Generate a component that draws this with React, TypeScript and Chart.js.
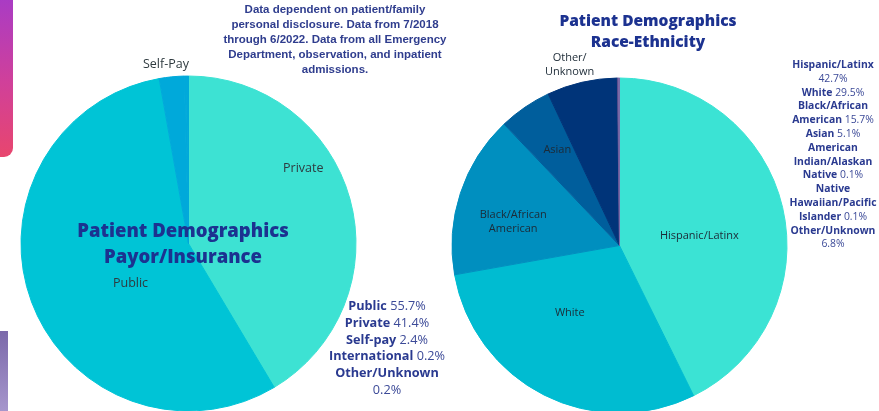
import React, { useEffect, useRef } from "react";
import { Chart, registerables } from "chart.js";

Chart.register(...registerables);

// ---- Payor / Insurance ----
const payorCategories = ["Private", "Public", "Self-pay", "International", "Other/Unknown"];
const payorValues = [41.4, 55.7, 2.4, 0.2, 0.2];
const payorColors = ["#3DE2D3", "#00C4D6", "#00A9DA", "#00A9DA", "#00A9DA"];
const payorSliceText = ["Private", "Public", "Self-Pay", "", ""];
// legend order / wrap hints
const payorLegendOrder = [1, 0, 2, 3, 4];
const payorLegendNames = ["Private", "Public", "Self-pay", "International", "Other/Unknown\n"];

// ---- Race / Ethnicity ----
const raceCategories = [
  "Hispanic/Latinx",
  "White",
  "Black/African American",
  "Asian",
  "Other/Unknown",
  "American Indian/Alaskan Native",
  "Native Hawaiian/Pacific Islander",
];
const raceValues = [42.7, 29.5, 15.7, 5.1, 6.8, 0.1, 0.1];
const raceColors = ["#3BE3D4", "#00BCD1", "#008FBF", "#005E9C", "#003479", "#5B4E8E", "#7A6AA8"];
const raceSliceText = ["Hispanic/Latinx", "White", "Black/African\nAmerican", "Asian", "Other/\nUnknown", "", ""];
const raceLegendOrder = [0, 1, 2, 3, 5, 6, 4];
const raceLegendNames = [
  "Hispanic/Latinx\n",
  "White",
  "Black/African\nAmerican",
  "Asian",
  "Other/Unknown\n",
  "American\nIndian/Alaskan\nNative",
  "Native\nHawaiian/Pacific\nIslander",
];

const noteText =
  "Data dependent on patient/family\npersonal disclosure. Data from 7/2018\nthrough 6/2022. Data from all Emergency\nDepartment, observation, and inpatient\nadmissions.";

const sliceLabelPlugin = {
  id: "sliceLabels",
  afterDatasetsDraw(chart: any, _args: any, opts: any) {
    const meta = chart.getDatasetMeta(0);
    const ctx = chart.ctx;
    ctx.save();
    ctx.font = opts.font;
    ctx.fillStyle = opts.color;
    ctx.textAlign = "center";
    ctx.textBaseline = "middle";
    meta.data.forEach((arc: any, i: number) => {
      const text = opts.texts[i];
      const p = opts.place[i];
      if (!text || !p) return;
      const { x, y, startAngle, endAngle, outerRadius } = arc.getProps(
        ["x", "y", "startAngle", "endAngle", "outerRadius"],
        true
      );
      const a = startAngle + (endAngle - startAngle) * p.along;
      const r = outerRadius * p.radius;
      const cx = x + Math.cos(a) * r;
      const cy = y + Math.sin(a) * r;
      const lines = String(text).split("\n");
      const lh = opts.lineHeight;
      lines.forEach((ln: string, k: number) => {
        ctx.fillText(ln, cx, cy + (k - (lines.length - 1) / 2) * lh);
      });
    });
    ctx.restore();
  },
};

function PieCanvas(props: {
  left: number;
  width: number;
  height: number;
  padding: { left: number; top: number; right: number; bottom: number };
  labels: string[];
  values: number[];
  colors: string[];
  texts: string[];
  place: ({ along: number; radius: number } | null)[];
  font: string;
  color: string;
  lineHeight: number;
}) {
  const ref = useRef<HTMLCanvasElement | null>(null);
  useEffect(() => {
    if (!ref.current) return;
    const chart = new Chart(ref.current, {
      type: "pie",
      data: {
        labels: props.labels,
        datasets: [
          {
            data: props.values,
            backgroundColor: props.colors,
            borderColor: props.colors,
            borderWidth: 1,
          },
        ],
      },
      options: {
        responsive: false,
        animation: false,
        layout: { padding: props.padding },
        plugins: {
          legend: { display: false },
          tooltip: { enabled: false },
          // @ts-ignore
          sliceLabels: {
            texts: props.texts,
            place: props.place,
            font: props.font,
            color: props.color,
            lineHeight: props.lineHeight,
          },
        },
      },
      plugins: [sliceLabelPlugin as any],
    });
    return () => chart.destroy();
  }, []);
  return (
    <canvas
      ref={ref}
      width={props.width}
      height={props.height}
      style={{ position: "absolute", left: props.left, top: 0, width: props.width, height: props.height }}
    />
  );
}

function Legend(props: {
  order: number[];
  names: string[];
  values: number[];
  style: React.CSSProperties;
  labelColor: string;
  valueColor: string;
}) {
  return (
    <div style={{ position: "absolute", textAlign: "center", whiteSpace: "pre", ...props.style }}>
      {props.order.map((idx, k) => {
        const name = props.names[idx];
        const parts = name.split("\n");
        const last = parts.pop() as string;
        return (
          <div key={k}>
            {parts.map((p, j) => (
              <div key={j} style={{ fontWeight: 700, color: props.labelColor }}>
                {p}
              </div>
            ))}
            <div>
              {last !== "" && <span style={{ fontWeight: 700, color: props.labelColor }}>{last} </span>}
              <span style={{ fontWeight: 400, color: props.valueColor }}>{props.values[idx].toFixed(1)}%</span>
            </div>
          </div>
        );
      })}
    </div>
  );
}

export default function App() {
  useEffect(() => {
    document.body.style.margin = "0";
    document.documentElement.style.overflow = "hidden";
  }, []);
  const navy = "#1C3290";
  return (
    <div
      style={{
        position: "absolute",
        left: 0,
        top: 0,
        width: 879,
        height: 411,
        overflow: "hidden",
        background: "#ffffff",
        fontFamily: "'Open Sans', sans-serif",
      }}
    >
      {/* decorative edge shapes */}
      <div
        style={{
          position: "absolute",
          left: -10,
          top: -10,
          width: 23,
          height: 167,
          borderRadius: 9,
          background: "linear-gradient(180deg, #A53BC9 0%, #D0409A 55%, #E8466E 100%)",
        }}
      />
      <div
        style={{
          position: "absolute",
          left: 0,
          top: 331,
          width: 8,
          height: 80,
          background: "linear-gradient(180deg, #7B69AA 0%, #A696CC 100%)",
        }}
      />

      <PieCanvas
        left={0}
        width={440}
        height={430}
        padding={{ left: 20.5, top: 75.5, right: 83.5, bottom: 18.5 }}
        labels={payorCategories}
        values={payorValues}
        colors={payorColors}
        texts={payorSliceText}
        place={[
          { along: 0.38, radius: 0.82 },
          { along: 0.43, radius: 0.42 },
          { along: 0.34, radius: 1.08 },
          null,
          null,
        ]}
        font="12.5px 'Open Sans', sans-serif"
        color="#2E3A3F"
        lineHeight={14}
      />
      <PieCanvas
        left={440}
        width={439}
        height={430}
        padding={{ left: 11.5, top: 77.5, right: 91.5, bottom: 16.5 }}
        labels={raceCategories}
        values={raceValues}
        colors={raceColors}
        texts={raceSliceText}
        place={[
          { along: 0.54, radius: 0.48 },
          { along: 0.59, radius: 0.5 },
          { along: 0.4, radius: 0.65 },
          { along: 0.57, radius: 0.68 },
          { along: 0.4, radius: 1.12 },
          null,
          null,
        ]}
        font="11px 'Open Sans', sans-serif"
        color="#1C2A36"
        lineHeight={14}
      />

      {/* note */}
      <div
        style={{
          position: "absolute",
          left: 185,
          top: 2,
          width: 300,
          textAlign: "center",
          whiteSpace: "pre",
          fontFamily: "'Liberation Sans', Arial, sans-serif",
          fontWeight: 700,
          fontSize: 11.5,
          lineHeight: "15px",
          color: "#2F3D8E",
        }}
      >
        {noteText}
      </div>

      {/* left title */}
      <div
        style={{
          position: "absolute",
          left: 33,
          top: 217,
          width: 300,
          textAlign: "center",
          fontWeight: 800,
          fontSize: 18.5,
          lineHeight: "26px",
          color: navy,
        }}
      >
        Patient Demographics
        <br />
        Payor/Insurance
      </div>

      {/* right title */}
      <div
        style={{
          position: "absolute",
          left: 498,
          top: 10,
          width: 300,
          textAlign: "center",
          fontWeight: 800,
          fontSize: 15.5,
          lineHeight: "21px",
          color: navy,
        }}
      >
        Patient Demographics
        <br />
        Race-Ethnicity
      </div>

      <Legend
        order={payorLegendOrder}
        names={payorLegendNames}
        values={payorValues}
        labelColor="#2A3A90"
        valueColor="#3C4A98"
        style={{ left: 287, top: 297, width: 200, fontSize: 12.7, lineHeight: "16.8px" }}
      />
      <Legend
        order={raceLegendOrder}
        names={raceLegendNames}
        values={raceValues}
        labelColor="#2A3A90"
        valueColor="#3C4A98"
        style={{ left: 783, top: 58, width: 100, fontSize: 10.4, lineHeight: "13.8px" }}
      />
    </div>
  );
}
